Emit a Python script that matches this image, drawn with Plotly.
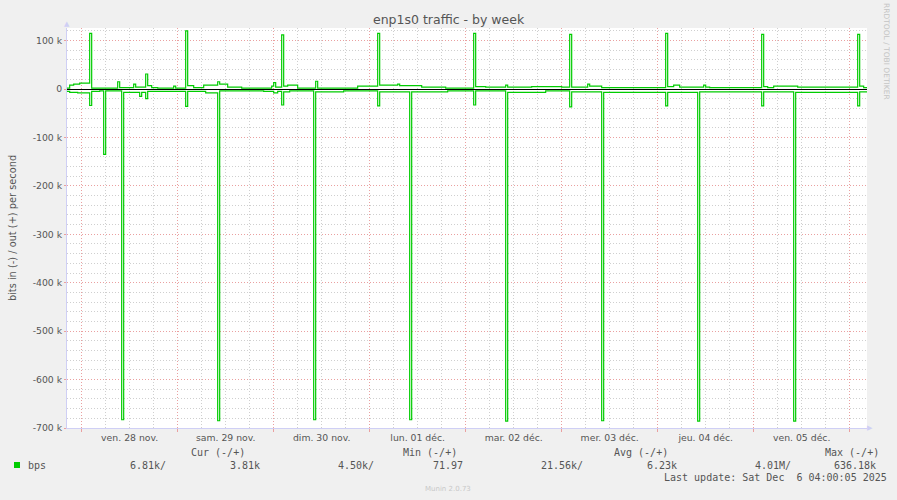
import plotly.graph_objects as go
import pandas as pd

# ---------------- data ----------------
BASE = pd.Timestamp("2025-11-28 00:00")  # hours below are relative to this

out_hours = [-4.0, -3.0, -2.0, -0.5, 2.0, 2.5, 9.0, 9.5, 13.0, 13.5, 16.0, 16.5, 17.5, 19.0, 23.0, 23.5,
             26.0, 26.5, 28.0, 30.5, 34.0, 34.5, 36.5, 40.0, 47.5, 48.0, 48.5,
             50.0, 50.5, 51.5, 54.0, 58.5, 59.0, 69.0,
             74.0, 74.5, 79.0, 79.5, 85.0, 91.0,
             98.0, 98.5, 101.0, 106.0, 106.5, 112.5, 120.0,
             122.0, 122.5, 126.5, 127.0, 130.0,
             146.0, 146.5, 148.0, 149.5, 155.5, 156.0, 157.0,
             170.0, 170.5, 171.5, 173.0, 179.0,
             194.0, 194.5, 195.5, 196.5]
out_kbps = [2, 8, 10, 12, 115, 2, 15, 3, 10, 4, 31, 7, 3, 2, 6, 2,
            120, 7, 3, 8, 15, 10, 4, 2, 6, 13, 4,
            112, 6, 8, 2, 16, 2, 6,
            115, 8, 10, 7, 4, 2,
            115, 5, 4, 8, 4, 5, 4,
            113, 4, 10, 6, 3,
            115, 5, 8, 4, 8, 4, 3,
            113, 5, 3, 6, 4,
            113, 6, 3, 3]

in_hours = [-4.0, -3.0, -1.0, 2.0, 2.5, 4.5, 5.5, 6.0, 10.0, 10.5, 14.5, 15.0, 16.0, 16.5,
            26.0, 26.5, 31.0, 34.0, 34.5, 45.5, 48.0, 49.0,
            50.0, 50.5, 52.0, 58.0, 58.5, 65.5,
            74.0, 74.5, 82.0, 82.5, 91.5,
            98.0, 98.5, 106.0, 106.5, 116.0,
            122.0, 122.5, 130.0, 130.5,
            146.0, 146.5, 154.0, 154.5,
            170.0, 170.5, 178.0, 178.5,
            194.0, 194.5, 196.5]
in_kbps = [5, 7, 8, 34, 5, 4, 135, 4, 683, 7, 15, 7, 20, 5,
           36, 5, 8, 685, 4, 5, 8, 5,
           33, 6, 4, 683, 6, 4,
           35, 6, 683, 6, 4,
           33, 4, 686, 7, 4,
           37, 6, 685, 7,
           35, 7, 686, 6,
           35, 6, 686, 7,
           35, 6, 5]

day_labels = ["ven. 28 nov.", "sam. 29 nov.", "dim. 30 nov.", "lun. 01 déc.",
              "mar. 02 déc.", "mer. 03 déc.", "jeu. 04 déc.", "ven. 05 déc."]
y_tick_values = [100000, 0, -100000, -200000, -300000, -400000, -500000, -600000, -700000]
y_tick_labels = ["100 k", "0", "-100 k", "-200 k", "-300 k", "-400 k", "-500 k", "-600 k", "-700 k"]

legend_header = ["Cur (-/+)", "Min (-/+)", "Avg (-/+)", "Max (-/+)"]
legend_values = ["6.81k/", "3.81k", "4.50k/", "71.97", "21.56k/", "6.23k", "4.01M/", "636.18k"]
last_update = "Last update: Sat Dec  6 04:00:05 2025"

# ---------------- figure ----------------
def to_time(hs):
    return [BASE + pd.Timedelta(hours=h) for h in hs]

fmt = "%Y-%m-%d %H:%M:%S"
x_start = (BASE - pd.Timedelta(hours=3.67)).strftime(fmt)
x_end = (BASE + pd.Timedelta(hours=196.33)).strftime(fmt)
midnights = [(BASE + pd.Timedelta(hours=24 * i)).strftime(fmt) for i in range(9)]
noons = [(BASE + pd.Timedelta(hours=12 + 24 * i)).strftime(fmt) for i in range(len(day_labels))]

GREEN = "#00CC00"
TXT = "#555555"
MGRID = "#eaa0a0"
GRID = "#cfcfcf"
AXIS = "#cfcff5"
DOT = "1px,2px"
W, H = 897, 500
L, R, T, B = 67, 30, 28, 72

fig = go.Figure()
fig.add_trace(go.Scatter(x=to_time(out_hours), y=[v * 1000 for v in out_kbps], mode="lines",
                         line=dict(color=GREEN, width=1.2, shape="hv"), xaxis="x", yaxis="y",
                         showlegend=False, hoverinfo="skip"))
fig.add_trace(go.Scatter(x=to_time(in_hours), y=[-v * 1000 for v in in_kbps], mode="lines",
                         line=dict(color=GREEN, width=1.2, shape="hv"), xaxis="x2", yaxis="y",
                         showlegend=False, hoverinfo="skip"))

fig.update_layout(
    width=W, height=H,
    margin=dict(l=L, r=R, t=T, b=B, autoexpand=False),
    paper_bgcolor="#F0F0F0", plot_bgcolor="#FFFFFF",
    font=dict(family="DejaVu Sans", size=9.3, color=TXT),
    showlegend=False,
    xaxis=dict(type="date", range=[x_start, x_end], tickmode="array", tickvals=midnights,
               ticktext=[""] * len(midnights), showgrid=True, gridcolor=MGRID, griddash=DOT,
               gridwidth=1, ticks="outside", ticklen=3, tickcolor=MGRID,
               showline=True, linecolor=AXIS, linewidth=1, zeroline=False,
               minor=dict(dtick=6 * 3600 * 1000, tick0=midnights[0], showgrid=True,
                          gridcolor=GRID, griddash=DOT, gridwidth=1, ticks="")),
    xaxis2=dict(type="date", range=[x_start, x_end], overlaying="x", side="bottom",
                tickmode="array", tickvals=noons, ticktext=day_labels, showgrid=False,
                ticks="outside", ticklen=1, tickcolor="rgba(0,0,0,0)", showline=False, zeroline=False,
                tickfont=dict(family="DejaVu Sans", size=9.3, color=TXT)),
    yaxis=dict(range=[-700000, 126000], tickmode="array", tickvals=y_tick_values,
               ticktext=y_tick_labels, showgrid=True, gridcolor=MGRID, griddash=DOT,
               ticks="outside", ticklen=2, tickcolor=MGRID,
               showline=True, linecolor=AXIS, linewidth=1,
               zeroline=True, zerolinecolor="#000000", zerolinewidth=1,
               tickfont=dict(family="DejaVu Sans", size=9.3, color=TXT),
               minor=dict(dtick=20000, showgrid=True, gridcolor=GRID, griddash=DOT, ticks=""),
               title=dict(text="bits in (-) / out (+) per second", standoff=14,
                          font=dict(family="DejaVu Sans", size=9.8, color=TXT))),
)

def px(xp):
    return (xp - L) / (W - L - R)

def py(yp):
    return (H - B - yp) / (H - T - B)

ann = []
ann.append(dict(text="enp1s0 traffic - by week", x=px(449), y=py(19), xanchor="center", yanchor="middle",
                font=dict(family="DejaVu Sans", size=12.5, color=TXT)))
ann.append(dict(text="RRDTOOL / TOBI OETIKER", x=px(887), y=py(52), textangle=90, xanchor="center",
                yanchor="middle", font=dict(family="DejaVu Sans", size=7.5, color="#c4c4c4")))
mono = dict(family="DejaVu Sans Mono", size=10, color=TXT)
for txt, xp in zip(legend_header, [189, 401, 612, 822.5]):
    ann.append(dict(text=txt, x=px(xp), y=py(452.5), xanchor="left", yanchor="middle", font=mono))
ann.append(dict(text="bps", x=px(26), y=py(465), xanchor="left", yanchor="middle", font=mono))
for txt, xp in zip(legend_values, [128, 228, 336, 430.5, 539, 645, 753, 831.5]):
    ann.append(dict(text=txt, x=px(xp), y=py(465), xanchor="left", yanchor="middle", font=mono))
ann.append(dict(text=last_update, x=px(661.5), y=py(477), xanchor="left", yanchor="middle", font=mono))
ann.append(dict(text="Munin 2.0.73", x=px(448), y=py(489), xanchor="center", yanchor="middle",
                font=dict(family="DejaVu Sans", size=7, color="#c8c8c8")))
# axis arrow heads
ann.append(dict(text="▲", x=px(67), y=py(24), xanchor="center", yanchor="middle",
                font=dict(size=7, color=AXIS)))
ann.append(dict(text="▶", x=px(870), y=py(428), xanchor="center", yanchor="middle",
                font=dict(size=7, color=AXIS)))
for a in ann:
    a.update(xref="paper", yref="paper", showarrow=False)
fig.update_layout(annotations=ann)

fig.add_shape(type="rect", xref="paper", yref="paper", x0=px(14), x1=px(20), y0=py(468), y1=py(462),
              fillcolor=GREEN, line=dict(width=0))

fig.write_html("out.html", config={"displayModeBar": False},
               post_script="document.body.style.margin='0';document.body.style.padding='0';"
                           "document.body.style.overflow='hidden';")
